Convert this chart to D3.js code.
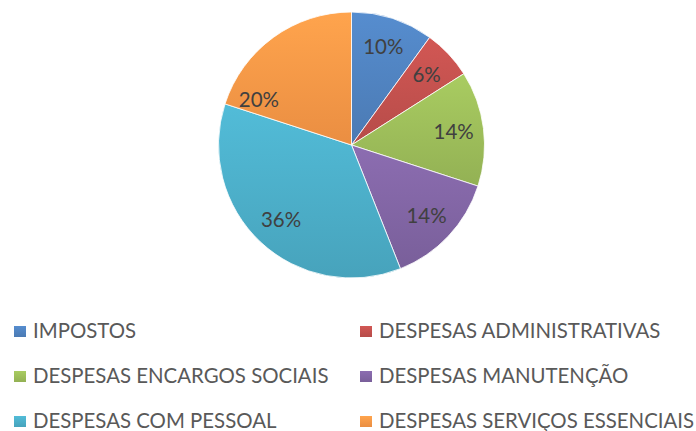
<!DOCTYPE html>
<html>
<head>
<meta charset="utf-8">
<script src="https://cdn.jsdelivr.net/npm/d3@7"></script>
<style>
  body { margin: 0; background: #fff; }
  .slice-label { font-family: Lato, "Open Sans", sans-serif; font-size: 20.5px; fill: #404040; }
  .legend-text { font-family: Lato, "Open Sans", sans-serif; font-size: 20.4px; fill: #595959; }
</style>
</head>
<body>
<div id="piechart"></div>
<script>
// data
var categories = ["IMPOSTOS", "DESPESAS ADMINISTRATIVAS", "DESPESAS ENCARGOS SOCIAIS",
                  "DESPESAS MANUTENÇÃO", "DESPESAS COM PESSOAL", "DESPESAS SERVIÇOS ESSENCIAIS"];
var values = [10, 6, 14, 14, 36, 20];
var colors = ["#4F81BD", "#C0504D", "#9BBB59", "#8064A2", "#4BACC6", "#F79646"];

var width = 696, height = 431;
var cx = 351.5, cy = 145, radius = 133;

// Excel "best fit" pushed the last label toward the start of its slice
var labelFrac = [0.5, 0.5, 0.5, 0.5, 0.5, 0.11];
var labelRadius = 103;

var svg = d3.select("#piechart")
            .append("svg")
            .attr("width", width)
            .attr("height", height);

var defs = svg.append("defs");
colors.forEach(function(c, i) {
    var g = defs.append("linearGradient")
                .attr("id", "grad" + i)
                .attr("x1", 0).attr("x2", 0)
                .attr("y1", 0).attr("y2", 1);
    g.append("stop").attr("offset", "0%").attr("stop-color", d3.color(c).brighter(0.25));
    g.append("stop").attr("offset", "100%").attr("stop-color", d3.color(c).darker(0.15));
});

var data = categories.map(function(name, i) { return {name: name, value: values[i], idx: i}; });

var pie = d3.pie()
            .sort(null)
            .value(function(d) { return d.value; });

var arcGen = d3.arc().innerRadius(0).outerRadius(radius);

var arcs = pie(data);

var chart = svg.append("g")
               .attr("transform", "translate(" + cx + "," + cy + ")");

chart.selectAll("path")
     .data(arcs)
     .enter()
     .append("path")
     .attr("d", arcGen)
     .attr("fill", function(d) { return "url(#grad" + d.data.idx + ")"; })
     .attr("stroke", "#fff")
     .attr("stroke-width", 0.8);

chart.selectAll("text")
     .data(arcs)
     .enter()
     .append("text")
     .attr("class", "slice-label")
     .attr("text-anchor", "middle")
     .attr("dy", "0.36em")
     .attr("x", function(d) {
         var a = d.startAngle + (d.endAngle - d.startAngle) * labelFrac[d.data.idx];
         return labelRadius * Math.sin(a);
     })
     .attr("y", function(d) {
         var a = d.startAngle + (d.endAngle - d.startAngle) * labelFrac[d.data.idx];
         return -labelRadius * Math.cos(a);
     })
     .text(function(d) { return d.data.value + "%"; });

// legend: two columns, three rows
var legend = svg.append("g").attr("class", "legend");
var colX = d3.scalePoint().domain([0, 1]).range([14, 360]);
var rowY = d3.scalePoint().domain([0, 1, 2]).range([338, 428]);

var item = legend.selectAll("g")
                 .data(data)
                 .enter()
                 .append("g")
                 .attr("transform", function(d) {
                     return "translate(" + colX(d.idx % 2) + "," + rowY(Math.floor(d.idx / 2)) + ")";
                 });

item.append("rect")
    .attr("x", 0).attr("y", -12)
    .attr("width", 12).attr("height", 11)
    .attr("fill", function(d) { return "url(#grad" + d.idx + ")"; });

item.append("text")
    .attr("class", "legend-text")
    .attr("x", 19)
    .attr("y", 0)
    .text(function(d) { return d.name; });
</script>
</body>
</html>
